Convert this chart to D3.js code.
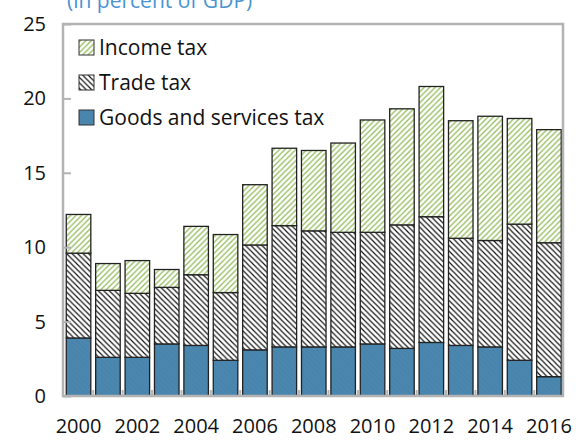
<!DOCTYPE html>
<html>
<head>
<meta charset="utf-8">
<script src="https://cdn.jsdelivr.net/npm/d3@7"></script>
<style>
  html, body { margin: 0; padding: 0; background: #fff; }
  svg { display: block; font-family: "Open Sans", "Noto Sans", sans-serif; }
</style>
</head>
<body>
<svg id="chart" width="576" height="440"></svg>
<script>
// Tax revenue by type, percent of GDP
const years = ["2000","2001","2002","2003","2004","2005","2006","2007","2008",
               "2009","2010","2011","2012","2013","2014","2015","2016"];
const goodsServices = [3.9, 2.6, 2.6, 3.5, 3.4, 2.4, 3.1, 3.3, 3.3, 3.3, 3.5, 3.2, 3.6, 3.4, 3.3, 2.4, 1.3];
const tradeTax      = [5.7, 4.5, 4.3, 3.8, 4.75, 4.55, 7.05, 8.15, 7.8, 7.7, 7.5, 8.3, 8.45, 7.2, 7.15, 9.15, 9.0];
const incomeTax     = [2.6, 1.8, 2.2, 1.2, 3.25, 3.9, 4.05, 5.2, 5.4, 6.0, 7.55, 7.8, 8.75, 7.9, 8.35, 7.1, 7.6];
const seriesKeys   = ["goods", "trade", "income"];
const seriesLabels = { income: "Income tax", trade: "Trade tax", goods: "Goods and services tax" };
const legendOrder  = ["income", "trade", "goods"];
const yTicks = [0, 5, 10, 15, 20, 25];
const xLabelYears = ["2000","2002","2004","2006","2008","2010","2012","2014","2016"];
const subtitle = "(in percent of GDP)";

const rows = years.map((y, i) => ({
  year: y, goods: goodsServices[i], trade: tradeTax[i], income: incomeTax[i]
}));

const svg = d3.select("#chart");
const plot = { left: 63, right: 563, top: 24, bottom: 396 };

const x = d3.scaleBand().domain(years)
  .range([plot.left + 1.5, plot.right]).paddingInner(0.165).paddingOuter(0.06);
const y = d3.scaleLinear().domain([0, 25]).range([plot.bottom, plot.top]);

// fill patterns: diagonal hatching drawn in an unrotated tile
const defs = svg.append("defs");
const T = 5.5;
function hatch(id, bg, color, width, forward) {
  const p = defs.append("pattern").attr("id", id)
    .attr("patternUnits", "userSpaceOnUse").attr("width", T).attr("height", T);
  p.append("rect").attr("width", T).attr("height", T).attr("fill", bg);
  const d = forward
    ? `M0,${T} L${T},0 M${-T / 2},${T / 2} L${T / 2},${-T / 2} M${T / 2},${T * 1.5} L${T * 1.5},${T / 2}`
    : `M0,0 L${T},${T} M${-T / 2},${T / 2} L${T / 2},${T * 1.5} M${T / 2},${-T / 2} L${T * 1.5},${T / 2}`;
  p.append("path").attr("d", d).attr("stroke", color).attr("stroke-width", width)
    .attr("fill", "none");
}
hatch("pat-income", "#fff", "#97bd60", 1.3, true);
hatch("pat-trade", "#fff", "#111", 1.15, false);
hatch("pat-goods", "#4a86ad", "#4581a9", 0.8, false);

const fills = { income: "url(#pat-income)", trade: "url(#pat-trade)", goods: "url(#pat-goods)" };

// subtitle (clipped at the top edge)
svg.append("text").attr("x", 67).attr("y", 8)
  .attr("fill", "#4a94d4").attr("font-size", 21).text(subtitle);

// stacked bars
const stacked = d3.stack().keys(seriesKeys)(rows);
svg.append("g").selectAll("g").data(stacked).join("g")
  .attr("fill", d => fills[d.key])
  .selectAll("rect").data(d => d).join("rect")
  .attr("x", d => x(d.data.year))
  .attr("width", x.bandwidth())
  .attr("y", d => y(d[1]))
  .attr("height", d => y(d[0]) - y(d[1]))
  .attr("stroke", "#222").attr("stroke-width", 1.3);

// frame
svg.append("rect").attr("x", plot.left).attr("y", plot.top)
  .attr("width", plot.right - plot.left).attr("height", plot.bottom - plot.top)
  .attr("fill", "none").attr("stroke", "#b3b3b3").attr("stroke-width", 2.5);

// y axis: inward ticks, labels on the left
const yAxis = d3.axisLeft(y).tickValues(yTicks).tickSize(-8).tickPadding(17);
const gy = svg.append("g").attr("transform", `translate(${plot.left},0)`).call(yAxis);
gy.select(".domain").remove();
gy.selectAll(".tick line").attr("stroke", "#b3b3b3").attr("stroke-width", 2);
gy.selectAll(".tick text").attr("font-size", 20).attr("fill", "#111")
  .attr("font-family", "'Open Sans', sans-serif");

// x axis: ticks between bars, labels for even years
const step = x.step();
const boundaries = years.slice(1).map(yr => x(yr) - (step - x.bandwidth()) / 2);
svg.append("g").selectAll("line").data(boundaries).join("line")
  .attr("x1", d => d).attr("x2", d => d)
  .attr("y1", plot.bottom).attr("y2", plot.bottom - 6)
  .attr("stroke", "#b3b3b3").attr("stroke-width", 2);

const xAxis = d3.axisBottom(x).tickValues(xLabelYears).tickSize(0).tickPadding(23);
const gx = svg.append("g").attr("transform", `translate(0,${plot.bottom})`).call(xAxis);
gx.select(".domain").remove();
gx.selectAll(".tick text").attr("font-size", 20).attr("fill", "#111")
  .attr("font-family", "'Open Sans', sans-serif");

// legend
const legend = svg.append("g").selectAll("g").data(legendOrder).join("g")
  .attr("transform", (d, i) => `translate(79,${47.5 + i * 35})`);
legend.append("rect").attr("x", 0).attr("y", -7.5).attr("width", 15).attr("height", 15)
  .attr("fill", d => fills[d]).attr("stroke", "#333").attr("stroke-width", 1);
legend.append("text").attr("x", 20).attr("y", 0).attr("dy", "0.36em")
  .attr("font-size", 21).attr("fill", "#111").text(d => seriesLabels[d]);
</script>
</body>
</html>
